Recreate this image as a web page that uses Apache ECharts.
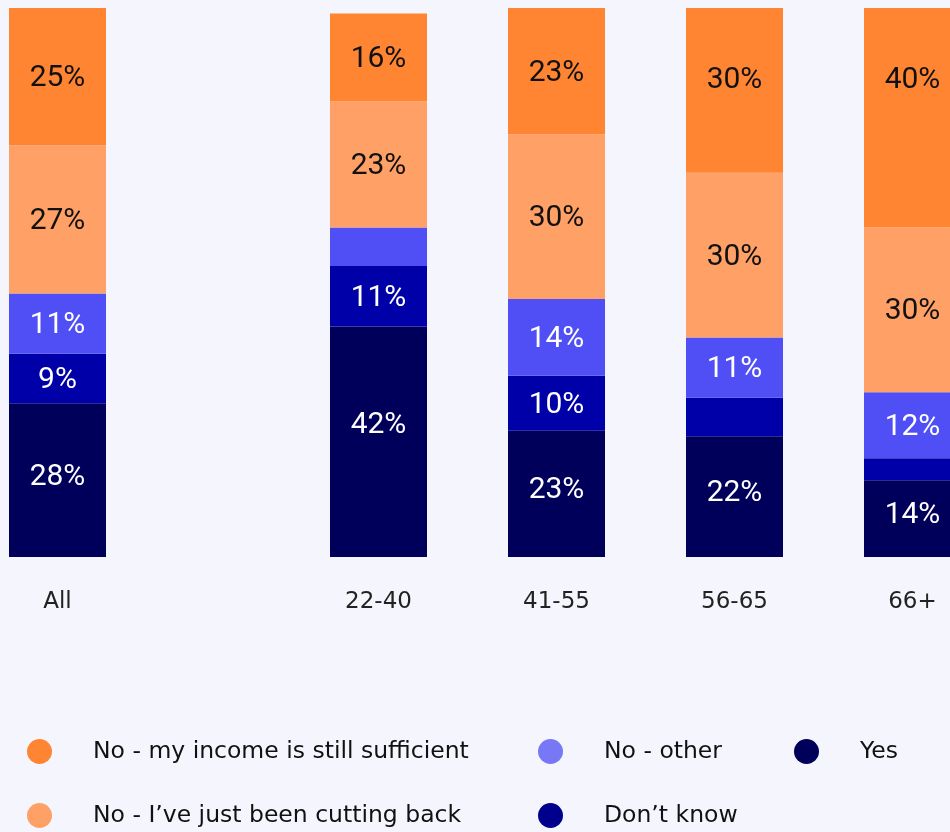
<!DOCTYPE html>
<html>
<head>
<meta charset="utf-8">
<script src="https://cdn.jsdelivr.net/npm/echarts@6/dist/echarts.min.js"></script>
<style>
    html, body { margin: 0; padding: 0; background: #F5F5FE; }
    #chart { width: 950px; height: 832px; }
</style>
</head>
<body>
<div id="chart"></div>
<script>
// first value of every series is "All", the rest follow ageGroups
const allCategory = ['All']
const ageGroups = ['22-40', '41-55', '56-65', '66+']

const yesVals = [28, 42, 23, 22, 14]
const dontKnowVals = [9, 11, 10, 7, 4]
const otherVals = [11, 7, 14, 11, 12]
const cuttingBackVals = [27, 23, 30, 30, 30]
const sufficientVals = [25, 16, 23, 30, 40]

const names = {
    yes: 'Yes',
    dontKnow: 'Don\u2019t know',
    other: 'No - other',
    cutting: 'No - I\u2019ve just been cutting back',
    sufficient: 'No - my income is still sufficient',
}

const textFont = 'DejaVu Sans'
const labelFont = 'Roboto'
const plotHeight = 549   // px for 100%

// bottom to top; cap = max distance (px) of the label centre from the segment top
const segments = [
    { name: names.yes, values: yesVals, color: '#00005A', legendColor: '#00005A', text: '#fff', cap: 97, shift: -5 },
    { name: names.dontKnow, values: dontKnowVals, color: '#0000A8', legendColor: '#00008C', text: '#fff' },
    { name: names.other, values: otherVals, color: '#4F4FF5', legendColor: '#7878F7', text: '#fff' },
    { name: names.cutting, values: cuttingBackVals, color: '#FFA066', legendColor: '#FFA066', text: '#111' },
    { name: names.sufficient, values: sufficientVals, color: '#FF8533', legendColor: '#FF8533', text: '#111', cap: 70, shift: 0 },
]

// keep the label of tall segments near their top, like the original
const labelOffset = (seg, v) => {
    let dy = 0
    if (seg.cap) {
        let half = v * plotHeight / 100 / 2
        dy = Math.min(seg.shift, seg.cap - half)
    }
    return [0, dy + 2]
}

let series = []
segments.map(seg => {
    // grid 0: All, grid 1: age groups
    [seg.values.slice(0, 1), seg.values.slice(1)].map((vals, i) => {
        series.push({
            name: seg.name,
            type: 'bar',
            stack: 'total' + i,
            xAxisIndex: i,
            yAxisIndex: i,
            barWidth: 97,
            clip: false,
            data: vals.map(v => ({ value: v, label: { offset: labelOffset(seg, v) } })),
            itemStyle: { color: seg.color },
            label: {
                show: true,
                position: 'inside',
                color: seg.text,
                fontFamily: labelFont,
                fontSize: 30,
                formatter: p => p.value >= 8 ? p.value + '%' : '',
            },
            emphasis: { disabled: true },
        })
    })
})

const legendItem = name => {
    let seg = segments.find(s => s.name === name)
    return { name: name, itemStyle: { color: seg.legendColor } }
}

const legendBase = {
    orient: 'vertical',
    top: 736,
    height: 96,
    padding: 0,
    icon: 'circle',
    itemWidth: 25,
    itemHeight: 25,
    itemGap: 33,
    selectedMode: false,
    textStyle: {
        fontFamily: textFont,
        fontSize: 23.5,
        color: '#111',
        lineHeight: 21,
        padding: [10, 0, 0, 36],
    },
}

const xAxisBase = {
    type: 'category',
    axisLine: { show: false },
    axisTick: { show: false },
    axisLabel: {
        margin: 34,
        fontFamily: textFont,
        fontSize: 23,
        color: '#222',
    },
}

const yAxisBase = {
    type: 'value',
    min: 0,
    max: 100,
    show: false,
    splitLine: { show: false },
}

const option = {
    backgroundColor: '#F5F5FE',
    animation: false,
    grid: [
        { left: 0, width: 115, top: 8, height: plotHeight, outerBoundsMode: 'none' },
        // ticks sit on the bar centres (boundaryGap false)
        { left: 378.5, width: 534, top: 8, height: plotHeight, outerBoundsMode: 'none' },
    ],
    xAxis: [
        Object.assign({ gridIndex: 0, data: allCategory }, xAxisBase),
        Object.assign({ gridIndex: 1, data: ageGroups, boundaryGap: false }, xAxisBase),
    ],
    yAxis: [
        Object.assign({ gridIndex: 0 }, yAxisBase),
        Object.assign({ gridIndex: 1 }, yAxisBase),
    ],
    legend: [
        Object.assign({ left: 27, data: [names.sufficient, names.cutting].map(legendItem) }, legendBase),
        Object.assign({ left: 538, data: [names.other, names.dontKnow].map(legendItem) }, legendBase),
        Object.assign({ left: 794, data: [names.yes].map(legendItem) }, legendBase),
    ],
    series: series,
}

const chart = echarts.init(document.getElementById('chart'))
chart.setOption(option)
</script>
</body>
</html>
